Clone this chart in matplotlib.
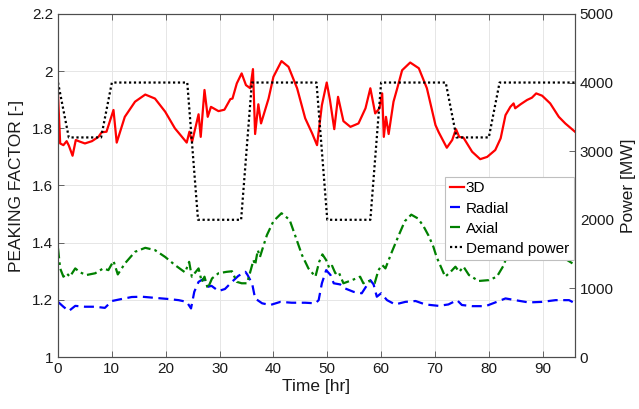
import matplotlib
matplotlib.use("Agg")
import matplotlib.pyplot as plt

plt.rcParams['font.family'] = ['Liberation Sans', 'DejaVu Sans']

# ---- data ----
t_3d = [0, 0.4, 1.0, 1.6, 2.0, 2.7, 3.3, 4.1, 5.0, 6.3, 7.5, 8.1, 9.0, 10.3, 10.9,
        12.4, 14.3, 16.2, 18.0, 19.9, 21.7, 23.9, 24.4, 24.9, 26.1, 26.5, 27.2, 27.8,
        28.4, 29.8, 30.9, 32.0, 32.4, 33.2, 34.1, 34.9, 35.7, 36.2, 36.6, 37.2, 37.7,
        39.1, 40.0, 41.5, 42.8, 44.4, 45.9, 47.2, 48.1, 49.0, 49.9, 50.5, 51.3, 52.0,
        53.0, 54.3, 55.8, 57.1, 58.0, 58.9, 59.7, 60.2, 60.5, 60.9, 61.4, 62.3, 63.0,
        63.9, 65.4, 67.0, 68.5, 70.1, 70.7, 72.2, 73.2, 73.9, 74.5, 75.3, 76.9, 78.4,
        79.7, 81.2, 82.2, 83.1, 84.0, 84.6, 84.9, 85.9, 87.1, 88.0, 88.8, 89.9, 91.4,
        93.0, 94.2, 96.0]
pf_3d = [1.916, 1.747, 1.741, 1.755, 1.740, 1.704, 1.759, 1.753, 1.747, 1.755, 1.770,
         1.786, 1.788, 1.864, 1.750, 1.840, 1.893, 1.918, 1.904, 1.858, 1.800, 1.750,
         1.788, 1.753, 1.849, 1.770, 1.934, 1.840, 1.875, 1.860, 1.865, 1.902, 1.904,
         1.957, 1.992, 1.951, 1.940, 2.007, 1.780, 1.884, 1.817, 1.904, 1.980, 2.035,
         2.015, 1.940, 1.835, 1.782, 1.741, 1.881, 1.960, 1.899, 1.797, 1.910, 1.825,
         1.805, 1.817, 1.870, 1.940, 1.852, 1.870, 1.922, 1.770, 1.840, 1.780, 1.893,
         1.940, 2.003, 2.030, 2.010, 1.940, 1.811, 1.786, 1.732, 1.759, 1.797, 1.770,
         1.767, 1.718, 1.692, 1.700, 1.724, 1.765, 1.846, 1.875, 1.887, 1.870, 1.884,
         1.899, 1.907, 1.922, 1.914, 1.887, 1.840, 1.817, 1.788]

t_rad = [0, 1.0, 2.0, 3.2, 5.0, 6.9, 8.7, 10.0, 11.8, 13.7, 15.6, 18.0, 20.5, 22.4,
         23.9, 24.7, 25.3, 26.1, 27.0, 27.9, 28.5, 29.8, 31.0, 32.3, 33.5, 34.8, 35.2,
         35.7, 36.1, 36.6, 37.9, 39.4, 41.3, 43.4, 45.9, 47.8, 48.4, 49.0, 49.8, 50.6,
         51.2, 52.4, 53.3, 54.9, 56.4, 57.4, 58.0, 58.6, 59.2, 60.0, 61.1, 62.6, 64.5,
         66.4, 68.2, 70.7, 72.5, 74.1, 75.0, 76.9, 79.4, 81.2, 83.1, 84.9, 87.4, 89.9,
         92.4, 94.9, 96.0]
pf_rad = [1.193, 1.176, 1.161, 1.179, 1.176, 1.176, 1.172, 1.196, 1.203, 1.210, 1.211,
          1.207, 1.203, 1.199, 1.193, 1.170, 1.228, 1.263, 1.273, 1.246, 1.249, 1.231,
          1.238, 1.263, 1.284, 1.298, 1.287, 1.269, 1.252, 1.205, 1.188, 1.182, 1.193,
          1.190, 1.190, 1.188, 1.199, 1.258, 1.304, 1.287, 1.258, 1.254, 1.240, 1.228,
          1.223, 1.252, 1.269, 1.254, 1.211, 1.223, 1.199, 1.184, 1.193, 1.196, 1.184,
          1.179, 1.184, 1.199, 1.182, 1.178, 1.178, 1.191, 1.205, 1.199, 1.191, 1.193,
          1.199, 1.199, 1.188]

t_ax = [0, 0.4, 1.0, 1.6, 2.2, 3.2, 4.1, 5.3, 6.9, 8.4, 9.35, 10.3, 11.1, 12.45, 14.3,
        16.2, 18.0, 19.9, 21.7, 23.6, 24.35, 24.85, 26.1, 26.7, 27.2, 27.8, 28.6, 29.8,
        31.3, 32.3, 33.2, 34.1, 35.1, 35.7, 36.3, 36.6, 37.1, 37.5, 38.2, 38.8, 40.0,
        41.5, 43.0, 44.0, 45.3, 46.5, 47.8, 48.5, 49.1, 49.8, 50.4, 50.9, 51.5, 52.1,
        53.0, 54.6, 56.1, 56.7, 57.7, 58.8, 59.5, 60.2, 60.8, 61.4, 62.0, 63.3, 64.4,
        65.6, 66.8, 67.8, 68.8, 69.7, 70.3, 71.9, 72.9, 73.8, 74.5, 75.3, 76.3, 78.1,
        80.0, 81.5, 82.8, 84.0, 85.5, 87.0, 88.5, 90.0, 91.5, 92.8, 94.5, 96.0]
pf_ax = [1.380, 1.310, 1.281, 1.293, 1.281, 1.310, 1.296, 1.287, 1.293, 1.310, 1.304,
         1.336, 1.289, 1.328, 1.368, 1.382, 1.374, 1.350, 1.322, 1.296, 1.333, 1.281,
         1.310, 1.263, 1.281, 1.240, 1.275, 1.293, 1.298, 1.300, 1.263, 1.258, 1.258,
         1.298, 1.339, 1.322, 1.374, 1.350, 1.392, 1.427, 1.475, 1.503, 1.480, 1.427,
         1.357, 1.310, 1.281, 1.333, 1.359, 1.339, 1.310, 1.319, 1.293, 1.298, 1.258,
         1.269, 1.281, 1.258, 1.266, 1.258, 1.304, 1.322, 1.310, 1.339, 1.368, 1.427,
         1.475, 1.498, 1.485, 1.460, 1.425, 1.386, 1.350, 1.281, 1.298, 1.316, 1.298,
         1.316, 1.287, 1.266, 1.269, 1.281, 1.322, 1.392, 1.430, 1.445, 1.440, 1.420,
         1.395, 1.374, 1.340, 1.322]

t_dem = [0, 2, 8, 10, 24, 26, 34, 36, 48, 50, 58, 60, 72, 74, 80, 82, 96]
p_dem = [4000, 3200, 3200, 4000, 4000, 2000, 2000, 4000, 4000, 2000, 2000, 4000,
         4000, 3200, 3200, 4000, 4000]

labels = ['3D', 'Radial', 'Axial', 'Demand power']
x_ticks = list(range(0, 100, 10))
y_ticks = [1, 1.2, 1.4, 1.6, 1.8, 2, 2.2]
y_ticklabels = ['1', '1.2', '1.4', '1.6', '1.8', '2', '2.2']
y2_ticks = [0, 1000, 2000, 3000, 4000, 5000]

# ---- plot ----
fig = plt.figure(figsize=(6.39, 4.09), dpi=100)
ax = fig.add_axes([0.0908, 0.127, 0.809, 0.839])
ax2 = ax.twinx()

axcol = '0.3'
l1, = ax.plot(t_3d, pf_3d, color='#ff0000', lw=1.6, solid_joinstyle='round')
l2, = ax.plot(t_rad, pf_rad, color='#0000ff', lw=1.6, ls=(0, (4.5, 2.5)))
l3, = ax.plot(t_ax, pf_ax, color='#008000', lw=1.6, ls=(0, (4.5, 1.8, 1.2, 1.8)))
l4, = ax2.plot(t_dem, p_dem, color='black', lw=1.6, ls=(0, (1, 1.2)))

ax.set_xlim(0, 96)
ax.set_ylim(1, 2.2)
ax2.set_ylim(0, 5000)
ax.set_xticks(x_ticks)
ax.set_yticks(y_ticks)
ax.set_yticklabels(y_ticklabels)
ax2.set_yticks(y2_ticks)
ax.grid(True, color='#e6e6e6', lw=0.7)
ax.set_axisbelow(True)

for a in (ax, ax2):
    for s in a.spines.values():
        s.set_color(axcol)
        s.set_linewidth(0.8)
    a.tick_params(direction='in', length=4, width=0.6, colors=axcol,
                  labelsize=11, labelcolor='#1a1a1a')
ax.tick_params(axis='x', top=True)

ax.set_xlabel('Time [hr]', fontsize=12.5, color='#1a1a1a', labelpad=2)
ax.set_ylabel('PEAKING FACTOR [-]', fontsize=12.5, color='#1a1a1a', labelpad=6)
ax2.set_ylabel('Power [MW]', fontsize=12.5, color='#1a1a1a', labelpad=5)

leg = ax2.legend([l1, l2, l3, l4], labels, loc='upper left',
                 bbox_to_anchor=(0.749, 0.525), borderaxespad=0, fontsize=11,
                 handlelength=0.9, handletextpad=0.15, labelspacing=0.4,
                 borderpad=0.3, fancybox=False, framealpha=1, edgecolor='0.75')
leg.get_frame().set_linewidth(0.8)

fig.savefig('out.png', dpi=100)
